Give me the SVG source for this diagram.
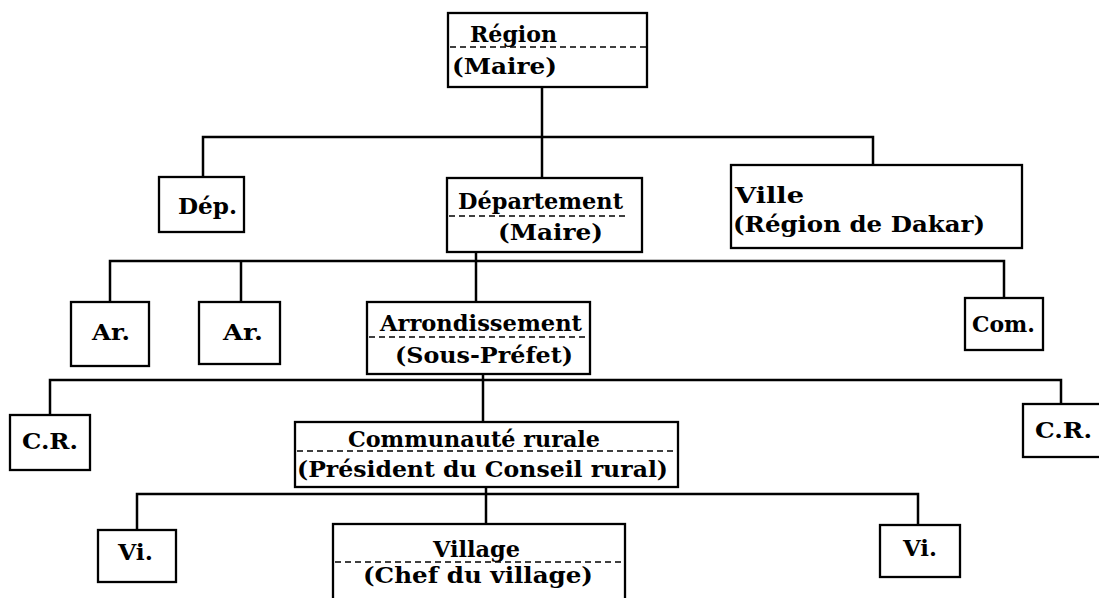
<svg xmlns="http://www.w3.org/2000/svg" width="1099" height="598" viewBox="0 0 1099 598">
<style>
.box{fill:none;stroke:#000;stroke-width:2.3}
.dash{fill:none;stroke:#000;stroke-width:1.6;stroke-dasharray:6 4}
.con{fill:none;stroke:#000;stroke-width:2.5}
text{font-family:"DejaVu Serif","Liberation Serif",serif;font-weight:bold;font-size:23px;fill:#000}
</style>
<rect width="1099" height="598" fill="#fff"/>
<g id="connectors">
<path class="con" d="M542,87 V178"/>
<path class="con" d="M203,177 V137 H873 V165"/>
<path class="con" d="M476,252 V302"/>
<path class="con" d="M110,302 V261 H1004 V298"/>
<path class="con" d="M241,261 V302"/>
<path class="con" d="M483,374 V422"/>
<path class="con" d="M50,415 V380 H1061 V404"/>
<path class="con" d="M486,487 V524"/>
<path class="con" d="M137,530 V494 H918 V525"/>
</g>
<g id="region">
<rect class="box" x="448" y="13" width="199" height="74"/>
<line class="dash" x1="450" y1="47" x2="647" y2="47"/>
<text x="470" y="42" textLength="87" lengthAdjust="spacingAndGlyphs">Région</text>
<text x="452" y="74" textLength="105" lengthAdjust="spacingAndGlyphs">(Maire)</text>
</g>
<g id="dep-left">
<rect class="box" x="159" y="177" width="85" height="55"/>
<text x="178" y="214" textLength="59" lengthAdjust="spacingAndGlyphs">Dép.</text>
</g>
<g id="departement">
<rect class="box" x="447" y="178" width="195" height="74"/>
<line class="dash" x1="449" y1="216" x2="625" y2="216"/>
<text x="458" y="209" textLength="165" lengthAdjust="spacingAndGlyphs">Département</text>
<text x="498" y="240" textLength="105" lengthAdjust="spacingAndGlyphs">(Maire)</text>
</g>
<g id="ville">
<rect class="box" x="731" y="165" width="291" height="83"/>
<text x="735" y="203" textLength="69" lengthAdjust="spacingAndGlyphs">Ville</text>
<text x="733" y="232" textLength="252" lengthAdjust="spacingAndGlyphs">(Région de Dakar)</text>
</g>
<g id="ar1">
<rect class="box" x="71" y="302" width="78" height="64"/>
<text x="92" y="340" textLength="38" lengthAdjust="spacingAndGlyphs">Ar.</text>
</g>
<g id="ar2">
<rect class="box" x="199" y="302" width="81" height="62"/>
<text x="223" y="340" textLength="40" lengthAdjust="spacingAndGlyphs">Ar.</text>
</g>
<g id="arrondissement">
<rect class="box" x="367" y="302" width="223" height="72"/>
<line class="dash" x1="369" y1="337" x2="588" y2="337"/>
<text x="380" y="331" textLength="202" lengthAdjust="spacingAndGlyphs">Arrondissement</text>
<text x="395" y="363" textLength="178" lengthAdjust="spacingAndGlyphs">(Sous-Préfet)</text>
</g>
<g id="com">
<rect class="box" x="965" y="298" width="78" height="52"/>
<text x="972" y="332" textLength="63" lengthAdjust="spacingAndGlyphs">Com.</text>
</g>
<g id="cr-left">
<rect class="box" x="10" y="415" width="80" height="55"/>
<text x="22" y="449" textLength="56" lengthAdjust="spacingAndGlyphs">C.R.</text>
</g>
<g id="communaute">
<rect class="box" x="295" y="422" width="383" height="65"/>
<line class="dash" x1="297" y1="451" x2="676" y2="451"/>
<text x="348" y="447" textLength="252" lengthAdjust="spacingAndGlyphs">Communauté rurale</text>
<text x="297" y="477" textLength="371" lengthAdjust="spacingAndGlyphs">(Président du Conseil rural)</text>
</g>
<g id="cr-right">
<rect class="box" x="1023" y="404" width="90" height="53"/>
<text x="1035" y="438" textLength="57" lengthAdjust="spacingAndGlyphs">C.R.</text>
</g>
<g id="vi-left">
<rect class="box" x="98" y="530" width="78" height="52"/>
<text x="118" y="560" textLength="35" lengthAdjust="spacingAndGlyphs">Vi.</text>
</g>
<g id="village">
<rect class="box" x="333" y="524" width="292" height="80"/>
<line class="dash" x1="335" y1="562" x2="623" y2="562"/>
<text x="433" y="557" textLength="87" lengthAdjust="spacingAndGlyphs">Village</text>
<text x="363" y="583" textLength="230" lengthAdjust="spacingAndGlyphs">(Chef du village)</text>
</g>
<g id="vi-right">
<rect class="box" x="880" y="525" width="80" height="52"/>
<text x="903" y="556" textLength="34" lengthAdjust="spacingAndGlyphs">Vi.</text>
</g>
</svg>
